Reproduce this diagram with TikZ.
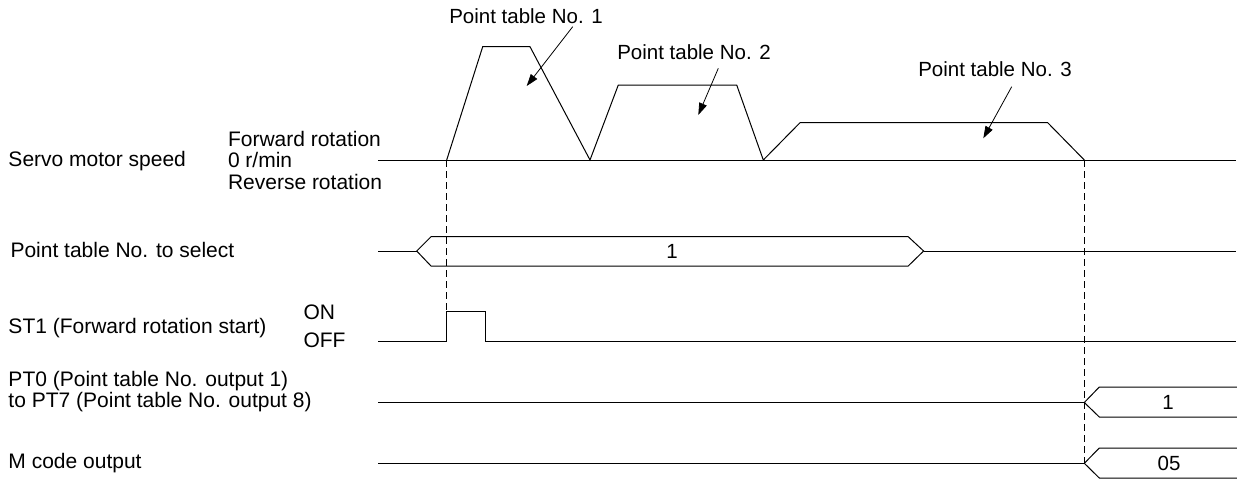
\documentclass[tikz,border=0pt]{standalone}
\usepackage{fontspec}
\setmainfont{Liberation Sans}
\usetikzlibrary{arrows.meta}
\begin{document}
\begin{tikzpicture}[x=1pt,y=-1pt,line width=1pt,
  lbl/.style={font=\fontsize{21}{23}\selectfont,inner sep=0pt,anchor=west},
  ctr/.style={font=\fontsize{20.5}{22}\selectfont,inner sep=0pt},
  sig/.style={line width=1pt},
  guide/.style={line width=0.8pt,dash pattern=on 7pt off 4pt},
  callout/.style={line width=0.8pt,-{Triangle[length=12pt,width=8pt]}}]
\useasboundingbox (0,0) rectangle (1237,480);
% left labels
\node[lbl] (lspeed) at (8,161) {Servo motor speed};
\node[lbl] (lfwd) at (227.5,139) {Forward rotation};
\node[lbl] (lzero) at (227.5,160) {0 r/min};
\node[lbl] (lrev) at (227.5,181.5) {Reverse rotation};
\node[lbl] (lsel) at (10,250) {Point table No. to select};
\node[lbl] (lst1) at (8,328) {ST1 (Forward rotation start)};
\node[lbl] (lon) at (303,312.5) {ON};
\node[lbl] (loff) at (303,340.5) {OFF};
\node[lbl] (lpt0) at (8,381.5) {PT0 (Point table No. output 1)};
\node[lbl] (lpt7) at (8,402.5) {to PT7 (Point table No. output 8)};
\node[lbl] (lm) at (8,463) {M code output};
% coordinates
\coordinate (s0) at (378,160);
\coordinate (a1) at (446.7,160);
\coordinate (a2) at (482.7,46.7);
\coordinate (a3) at (530,46.7);
\coordinate (a4) at (590,160);
\coordinate (b2) at (618.3,85);
\coordinate (b3) at (736.7,85);
\coordinate (b4) at (763.3,160);
\coordinate (c2) at (800,122.7);
\coordinate (c3) at (1047.7,122.7);
\coordinate (c4) at (1084.3,160);
\coordinate (s1) at (1236,160);
% speed
\draw[sig] (s0) -- (s1);
\draw[sig,line join=miter] (a1) -- (a2) -- (a3) -- (a4) -- (b2) -- (b3) -- (b4) -- (c2) -- (c3) -- (c4);
% callouts
\node[ctr] (p1) at (526,16) {Point table No. 1};
\node[ctr] (p2) at (694,52) {Point table No. 2};
\node[ctr] (p3) at (995,69) {Point table No. 3};
\coordinate (p1s) at (572.7,26.7);
\coordinate (p1e) at (526.7,86);
\coordinate (p2s) at (718.3,68.3);
\coordinate (p2e) at (698.3,115);
\coordinate (p3s) at (1011.7,86.7);
\coordinate (p3e) at (983.3,138.3);
\draw[callout] (p1s) -- (p1e);
\draw[callout] (p2s) -- (p2e);
\draw[callout] (p3s) -- (p3e);
% point table select
\coordinate (h0) at (378,251);
\coordinate (h1) at (416.7,251);
\coordinate (h2) at (923.6,251);
\coordinate (h3) at (1236,251);
\draw[sig] (h0) -- (h1);
\draw[sig] (h1) -- (431,236.7) -- (908.2,236.7) -- (h2) -- (908.2,266) -- (431,266) -- cycle;
\draw[sig] (h2) -- (h3);
\node[ctr] (v1) at (672,251) {1};
% ST1
\coordinate (t0) at (378,341.7);
\coordinate (t1) at (446.7,341.7);
\coordinate (t2) at (446.7,311.7);
\coordinate (t3) at (485,311.7);
\coordinate (t4) at (485,341.7);
\coordinate (t5) at (1236,341.7);
\draw[sig] (t0) -- (t1) -- (t2) -- (t3) -- (t4) -- (t5);
% PT output
\coordinate (q0) at (378,402.5);
\coordinate (q1) at (1084.3,402.5);
\draw[sig] (q0) -- (q1);
\draw[sig] (1237,387) -- (1099.3,387) -- (q1) -- (1099.3,417) -- (1237,417);
\node[ctr] (v2) at (1168,402.5) {1};
% M code
\coordinate (m0) at (378,463.3);
\coordinate (m1) at (1084.3,463.3);
\draw[sig] (m0) -- (m1);
\draw[sig] (1237,448) -- (1099.3,448) -- (m1) -- (1099.3,478) -- (1237,478);
\node[ctr] (v3) at (1169,463.3) {05};
% guides
\draw[guide] (a1) -- (t2);
\draw[guide] (c4) -- (m1);
\end{tikzpicture}
\end{document}
